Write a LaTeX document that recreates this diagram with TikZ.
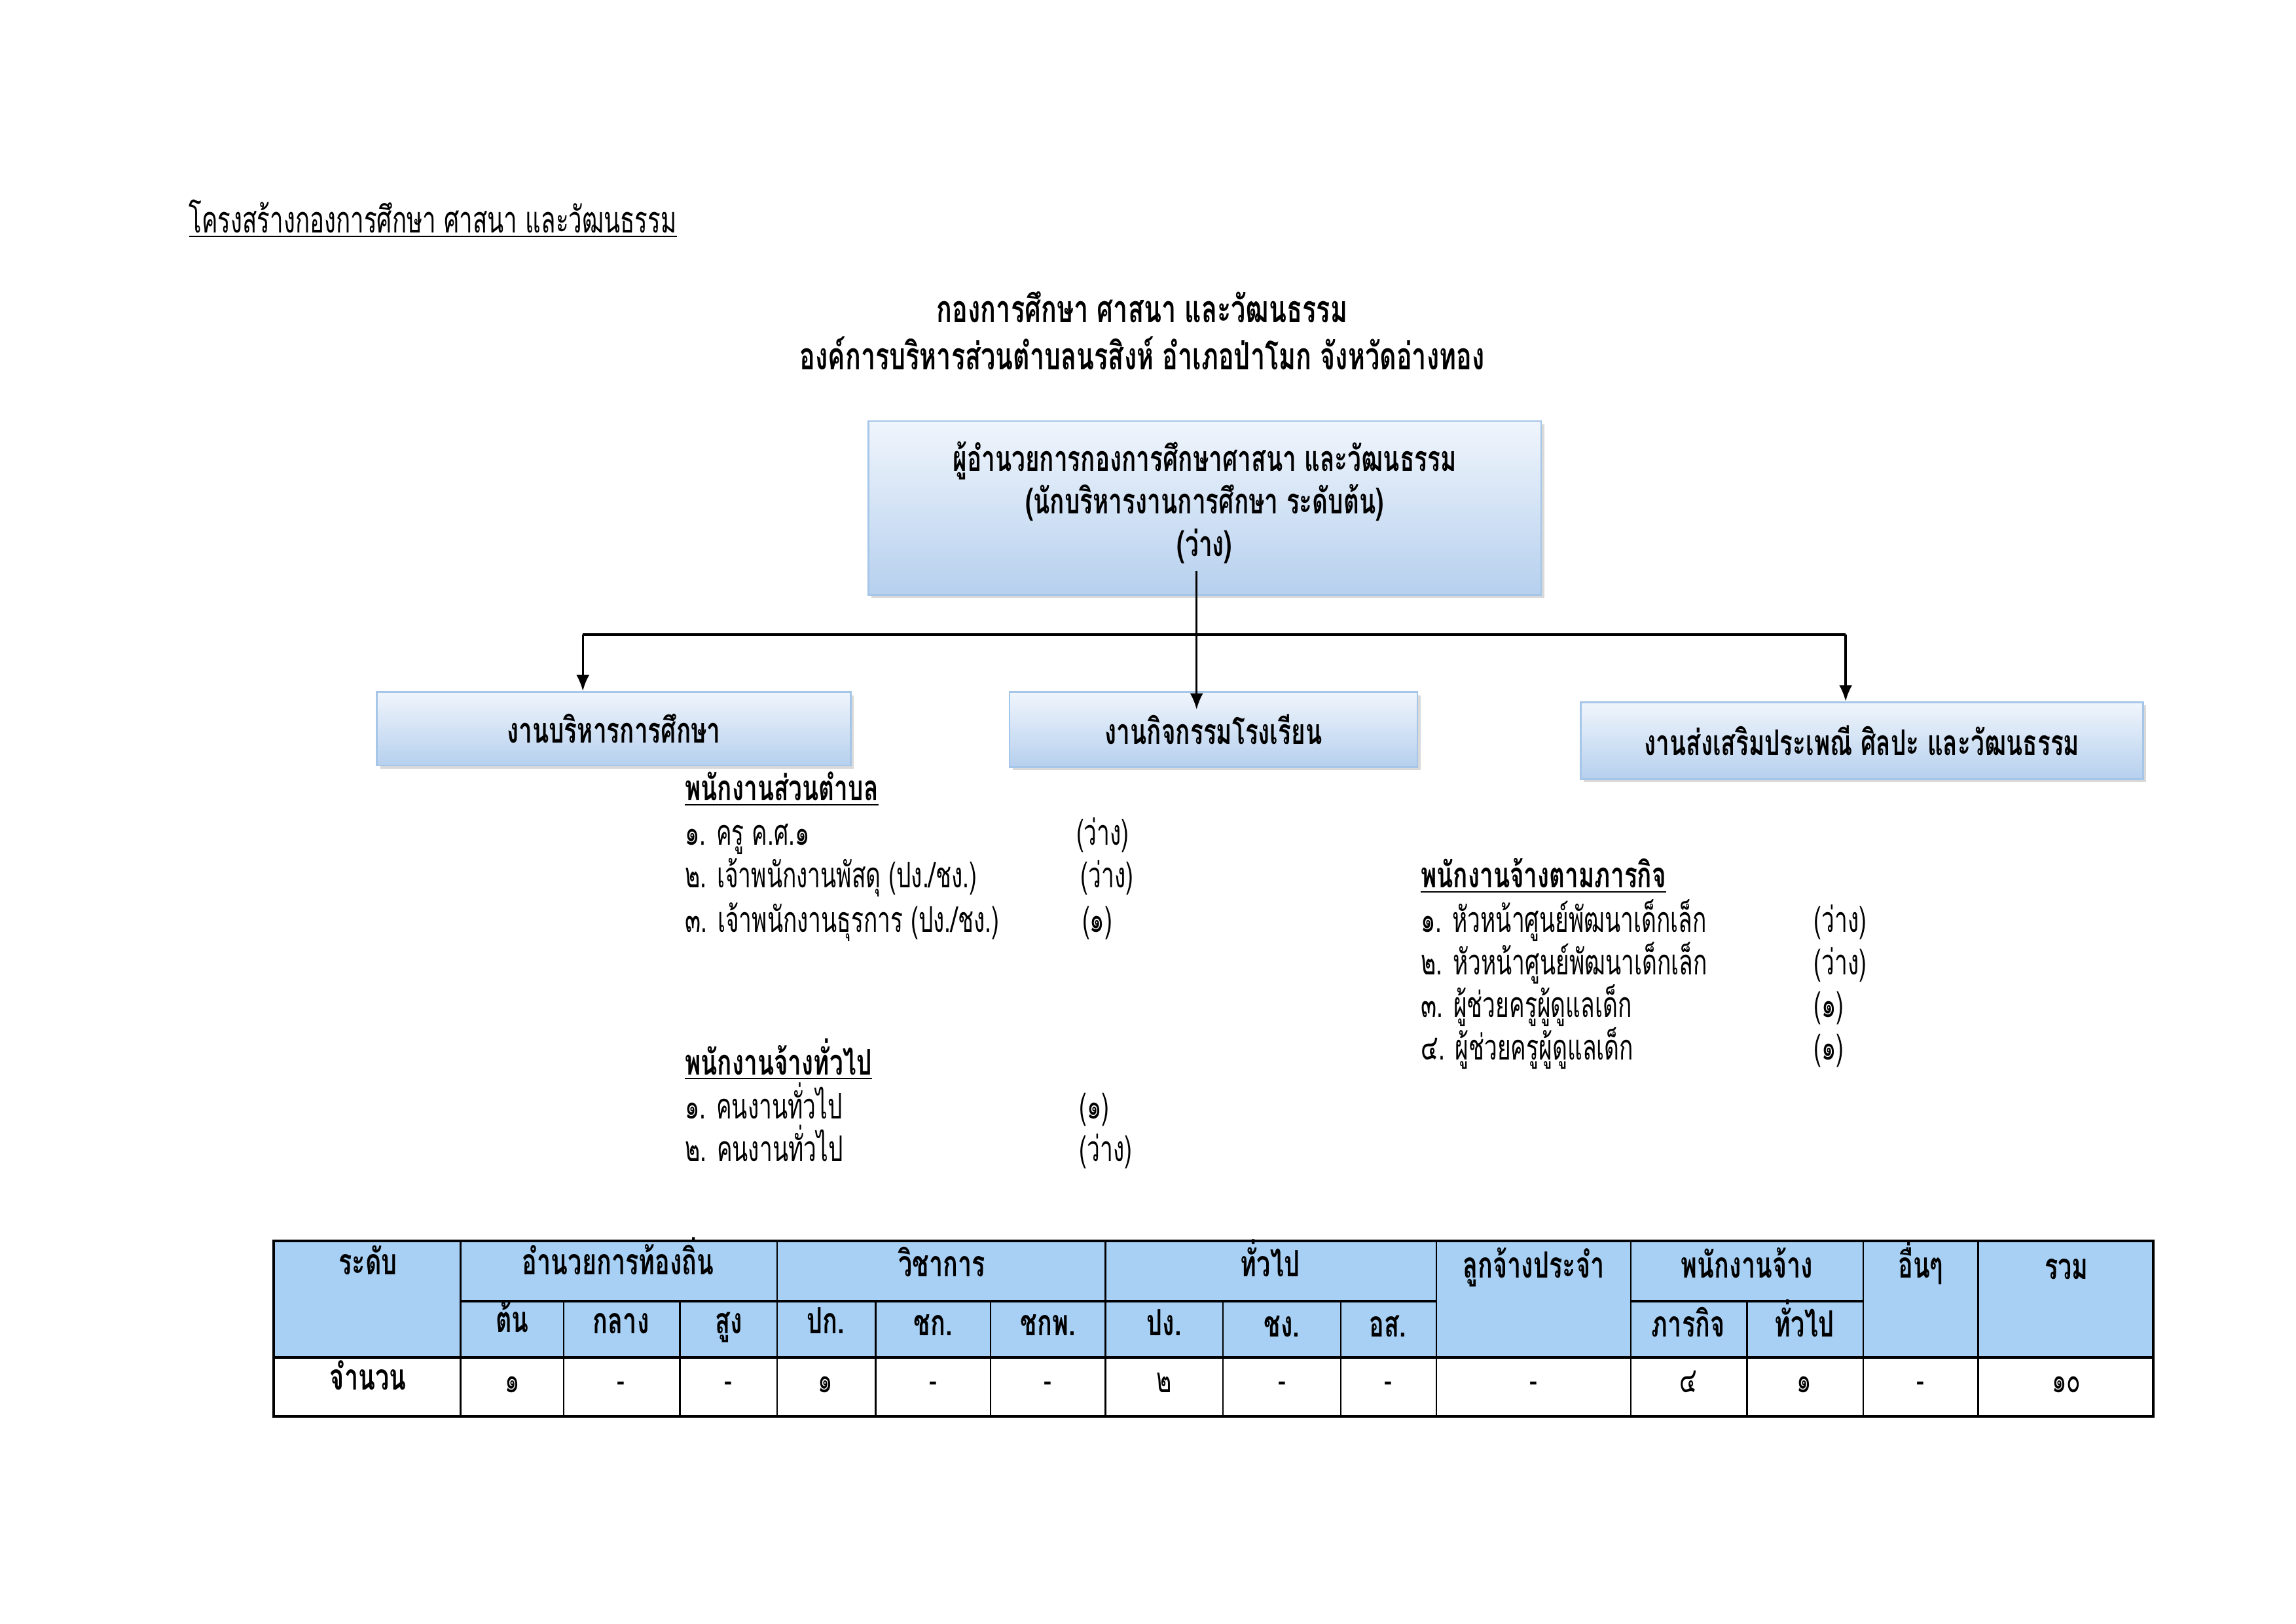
\documentclass[tikz,border=0pt]{standalone}
\usepackage{fontspec}
\setmainfont[Script=Thai,FakeStretch=0.655,BoldFeatures={FakeStretch=0.685}]{Loma}
\usetikzlibrary{arrows.meta,shadows}
\definecolor{hdrblue}{RGB}{168,208,244}
\definecolor{boxtop}{RGB}{240,245,252}
\definecolor{boxbot}{RGB}{182,208,238}
\definecolor{boxline}{RGB}{165,198,232}
\tikzset{
  orgbox/.style={draw=boxline, line width=0.6pt, top color=boxtop, bottom color=boxbot,
    drop shadow={shadow xshift=1.2pt, shadow yshift=-1.2pt, opacity=0.3, fill=gray},
    font=\bfseries\fontsize{13}{15.7}\selectfont, align=center, inner sep=0pt},
  conn/.style={line width=0.8pt, black},
  arr/.style={conn, -{Latex[length=2.1mm,width=1.7mm]}},
  item/.style={anchor=base west, inner sep=0pt, font=\fontsize{13}{15}\selectfont},
  ihead/.style={item, font=\bfseries\fontsize{13}{15}\selectfont},
  ttl/.style={anchor=base, inner sep=0pt, font=\bfseries\fontsize{13.9}{16}\selectfont},
  th/.style={anchor=base, inner sep=0pt, font=\bfseries\fontsize{13.3}{15}\selectfont},
  td/.style={anchor=base, inner sep=0pt, font=\fontsize{13}{15}\selectfont},
  thick line/.style={line width=1.0pt},
  thin line/.style={line width=0.6pt}
}
\begin{document}
\begin{tikzpicture}[x=0.190385mm,y=-0.190385mm]
\useasboundingbox (0,0) rectangle (1560,1103);
% header and titles
\node[item, font=\fontsize{13.5}{15}\selectfont] (hdr) at (128,158) {\underline{โครงสร้างกองการศึกษา ศาสนา และวัฒนธรรม}};
\node[ttl] (t1) at (776,219) {กองการศึกษา ศาสนา และวัฒนธรรม};
\node[ttl] (t2) at (776,251) {องค์การบริหารส่วนตำบลนรสิงห์ อำเภอป่าโมก จังหวัดอ่างทอง};
% boxes
\node[orgbox, minimum width=87.0mm, minimum height=22.47mm] (top) at (818.5,345)
  {ผู้อำนวยการกองการศึกษาศาสนา และวัฒนธรรม\\(นักบริหารงานการศึกษา ระดับต้น)\\(ว่าง)\\[-9pt]};
\node[orgbox, minimum width=61.3mm, minimum height=9.52mm] (b1) at (417,495) {งานบริหารการศึกษา};
\node[orgbox, minimum width=52.74mm, minimum height=9.71mm] (b2) at (824.5,495.5) {งานกิจกรรมโรงเรียน};
\node[orgbox, minimum width=72.73mm, minimum height=9.9mm] (b3) at (1265,503) {งานส่งเสริมประเพณี ศิลปะ และวัฒนธรรม};
% connectors
\coordinate (c0) at (813,388);
\coordinate (c1) at (813,482);
\coordinate (hl) at (396,431);
\coordinate (hr) at (1254,431);
\draw[conn] (hl) -- (hr);
\draw[arr] (c0) -- (c1);
\draw[arr] (hl) -- (b1.north -| hl);
\draw[arr] (hr) -- (b3.north -| hr);
% left lists
\node[ihead] (l0) at (465,544) {\underline{พนักงานส่วนตำบล}};
\node[item] (l1) at (465,574) {๑. ครู ค.ศ.๑};
\node[item] (l2) at (465,603) {๒. เจ้าพนักงานพัสดุ (ปง./ชง.)};
\node[item] (l3) at (465,633) {๓. เจ้าพนักงานธุรการ (ปง./ชง.)};
\node[item] (v1) at (731,574) {(ว่าง)};
\node[item] (v2) at (734,603) {(ว่าง)};
\node[item] (v3) at (735,633) {(๑)};
\node[ihead] (g0) at (465,730) {\underline{พนักงานจ้างทั่วไป}};
\node[item] (g1) at (465,760) {๑. คนงานทั่วไป};
\node[item] (g2) at (465,789) {๒. คนงานทั่วไป};
\node[item] (w1) at (733,760) {(๑)};
\node[item] (w2) at (733,789) {(ว่าง)};
% right list
\node[ihead] (r0) at (965,603) {\underline{พนักงานจ้างตามภารกิจ}};
\node[item] (r1) at (965,633) {๑. หัวหน้าศูนย์พัฒนาเด็กเล็ก};
\node[item] (r2) at (965,662) {๒. หัวหน้าศูนย์พัฒนาเด็กเล็ก};
\node[item] (r3) at (965,691) {๓. ผู้ช่วยครูผู้ดูแลเด็ก};
\node[item] (r4) at (965,720) {๔. ผู้ช่วยครูผู้ดูแลเด็ก};
\node[item] (u1) at (1232,633) {(ว่าง)};
\node[item] (u2) at (1232,662) {(ว่าง)};
\node[item] (u3) at (1232,691) {(๑)};
\node[item] (u4) at (1232,720) {(๑)};
% table
\fill[hdrblue] (186,843) rectangle (1463,922);
\draw[thin line] (383,884) -- (383,962) (462,884) -- (462,962)
  (595,884) -- (595,962) (673,884) -- (673,962)
  (831,884) -- (831,962) (911,884) -- (911,962)
  (1187,884) -- (1187,962);
\draw[thin line] (313,843) -- (313,962) (528,843) -- (528,962) (751,843) -- (751,962)
  (976,843) -- (976,962) (1108,843) -- (1108,962) (1266,843) -- (1266,962) (1344,843) -- (1344,962);
\draw[thick line] (313,884) -- (976,884) (1108,884) -- (1266,884);
\draw[thick line] (186,922) -- (1463,922);
\draw[thick line] (186,843) rectangle (1463,962);
\node[th] (h0) at (250,866) {ระดับ};
\node[th] (h1) at (420,866) {อำนวยการท้องถิ่น};
\node[th] (h2) at (640,867) {วิชาการ};
\node[th] (h3) at (863,867) {ทั่วไป};
\node[th] (h4) at (1042,868) {ลูกจ้างประจำ};
\node[th] (h5) at (1187,868) {พนักงานจ้าง};
\node[th] (h6) at (1305,868) {อื่นๆ};
\node[th] (h7) at (1404,869) {รวม};
\node[th] (s1) at (348,905) {ต้น};
\node[th] (s2) at (422,906) {กลาง};
\node[th] (s3) at (495,906) {สูง};
\node[th] (s4) at (561,906) {ปก.};
\node[th] (s5) at (634,907) {ชก.};
\node[th] (s6) at (712,907) {ชกพ.};
\node[th] (s7) at (791,907) {ปง.};
\node[th] (s8) at (871,908) {ชง.};
\node[th] (s9) at (943,908) {อส.};
\node[th] (s10) at (1147,908) {ภารกิจ};
\node[th] (s11) at (1226,908) {ทั่วไป};
\node[th] (d0) at (250,944) {จำนวน};
\node[td] (d1) at (348,946) {๑};
\node[td] (d2) at (422,946) {-};
\node[td] (d3) at (495,946) {-};
\node[td] (d4) at (561,946) {๑};
\node[td] (d5) at (634,946) {-};
\node[td] (d6) at (712,946) {-};
\node[td] (d7) at (791,946) {๒};
\node[td] (d8) at (871,946) {-};
\node[td] (d9) at (943,946) {-};
\node[td] (d10) at (1042,946) {-};
\node[td] (d11) at (1147,946) {๔};
\node[td] (d12) at (1226,946) {๑};
\node[td] (d13) at (1305,946) {-};
\node[td] (d14) at (1404,946) {๑๐};
\end{tikzpicture}
\end{document}
